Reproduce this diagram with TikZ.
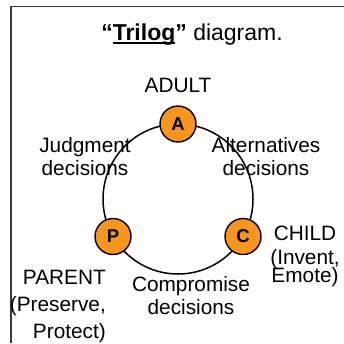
\documentclass[tikz,border=0pt]{standalone}
\usepackage{fontspec}
\setmainfont{Liberation Sans}
\definecolor{roleorange}{HTML}{F7961E}
\definecolor{framegray}{HTML}{3A3A3A}
% thick underline sitting just below the baseline
\newcommand\heavyul[1]{\vtop{\hbox{#1}\kern-2.4pt\hrule height 1.8pt}}
\begin{document}
\begin{tikzpicture}[x=1pt,y=-1pt,
  role/.style={circle,draw=black,line width=1.4pt,fill=roleorange,
    minimum size=36pt,inner sep=0pt,font=\fontsize{18.5}{20}\selectfont\bfseries},
  lbl/.style={font=\fontsize{20.8}{23}\selectfont,inner sep=0pt,align=center},
  ring/.style={draw=black,line width=1.5pt}
]
\useasboundingbox (0,0) rectangle (344,343);
% partial frame: left and top edges
\draw[framegray,line width=1.8pt] (11,343) -- (11,6.5) -- (344,6.5);

% title
\node[lbl,anchor=base,font=\fontsize{23}{26}\selectfont] (title) at (192,40)
  {\textbf{“\heavyul{Trilog}”} diagram.};

% decision ring
\coordinate (hub) at (178,199);
\draw[ring] (hub) circle[radius=75pt];

% the three ego states
\node[role] (A) at (178,124) {A};
\node[role] (P) at (113,236.5) {P};
\node[role] (C) at (243,236.5) {C};

% state names (multi-line labels are placed by their last baseline)
\node[lbl,anchor=base] (adult) at (178,92) {ADULT};
\node[lbl,anchor=base,align=center] (child) at (305,282)
  {CHILD\\[1pt](Invent,\\[-5pt]Emote)};
\node[lbl,anchor=base east,align=right,font=\fontsize{20.8}{27}\selectfont] (parent) at (106,338)
  {PARENT\\(Preserve,\\Protect)};

% decision kinds along the arcs
\node[lbl,anchor=base] (judg) at (85,175) {Judgment\\decisions};
\node[lbl,anchor=base] (alt) at (266,175) {Alternatives\\decisions};
\node[lbl,anchor=base] (comp) at (191,314) {Compromise\\decisions};
\end{tikzpicture}
\end{document}
